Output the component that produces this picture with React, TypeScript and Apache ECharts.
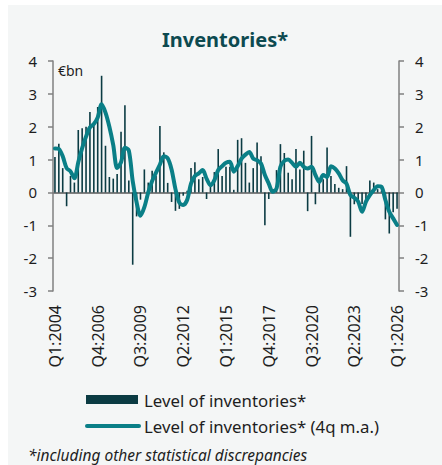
import React, { useEffect, useRef } from "react";
import * as echarts from "echarts";

const startYear = 2004;
const quarterCount = 89;
const categories: string[] = [];
for (let i = 0; i < quarterCount; i++) {
  categories.push(`Q${(i % 4) + 1}:${startYear + Math.floor(i / 4)}`);
}

const inventories = [
  1.08, 1.48, 0.74, -0.42, 0.5, 0.3, 1.9, 1.95, 2.0, 2.45,
  2.1, 2.6, 3.55, 1.42, 0.47, 0.42, 0.56, 1.85, 2.65, 0.36,
  -2.2, -0.73, -0.22, 0.7, 0.3, 0.66, 0.5, 2.02, 1.22, 0.29,
  -0.29, -0.56, -0.5, -0.1, 0.05, 0.74, 0.92, 0.4, 0.47, -0.2,
  0.2, 0.62, 1.32, 0.5, 0.78, 0.78, 0.08, 1.6, 1.65, 0.9,
  0.3, 0.74, 1.52, 1.1, -1.0, -0.2, 0.1, 0.68, 1.47, 1.2,
  0.6, 0.4, 1.32, 0.7, 1.27, -0.57, 1.72, -0.36, 0.35, 0.4,
  1.37, 0.5, 0.26, 0.14, 0.1, 0.8, -1.35, -0.36, -0.28, -0.35,
  -0.2, 0.36, 0.3, 0.1, 0.05, -0.82, -1.25, -0.6, -0.5,
];

const inventoriesMA = [
  1.34, 1.32, 1.1, 0.74, 0.64, 0.43, 0.92, 1.35, 1.7, 1.98,
  2.08, 2.28, 2.68, 2.43, 2.0, 1.44, 0.74, 0.92, 1.36, 1.28,
  0.35, -0.3, -0.71, -0.45, 0.0, 0.35, 0.6, 0.85, 1.1, 1.04,
  0.7, 0.1, -0.31, -0.38, -0.23, 0.27, 0.5, 0.58, 0.68, 0.42,
  0.22, 0.37, 0.68, 0.8, 0.9, 0.93, 0.63, 0.8, 1.03, 1.15,
  1.23, 1.03, 0.98, 0.88, 0.53, 0.27, 0.02, 0.12, 0.78, 0.96,
  1.0, 0.9, 0.78, 0.9, 0.78, 0.73, 0.78, 0.53, 0.32, 0.53,
  0.47, 0.8, 0.73, 0.58, 0.37, 0.27, -0.08, -0.16, -0.28, -0.59,
  -0.28, -0.08, 0.07, 0.19, 0.17, -0.23, -0.59, -0.79, -0.99,
];

const seriesNames = ["Level of inventories*", "Level of inventories* (4q m.a.)"];

const yMin = -3;
const yMax = 4;
const yInterval = 1;

const FONT = "Noto Sans";
const AXIS_GREY = "#808080";
const TEXT = "#1e1e1e";
const BAR_COLOR = "#0b3b43";
const LINE_COLOR = "#0a7f87";

export default function App() {
  const ref = useRef<HTMLDivElement>(null);
  useEffect(() => {
    if (!ref.current) return;
    const chart = echarts.init(ref.current, undefined, { renderer: "svg" });
    const yAxisCommon = {
      type: "value" as const,
      min: yMin,
      max: yMax,
      interval: yInterval,
      splitLine: { show: false },
      axisLine: { show: true, lineStyle: { color: AXIS_GREY, width: 1.5 } },
      axisTick: { show: true, inside: false, length: 5, lineStyle: { color: AXIS_GREY, width: 1.5 } },
      axisLabel: { color: TEXT, fontSize: 15, fontFamily: FONT, margin: 16 },
    };
    chart.setOption({
      animation: false,
      backgroundColor: "#f4f6f6",
      textStyle: { fontFamily: FONT },
      title: {
        text: "Inventories*",
        left: "center",
        top: 19,
        textStyle: { color: "#0d4a50", fontSize: 20, fontWeight: "bold", fontFamily: FONT },
      },
      grid: { left: 45, right: 43, top: 56, bottom: 174, containLabel: false },
      xAxis: [
        {
          type: "category",
          data: categories,
          position: "bottom",
          axisLine: { show: false, onZero: false },
          axisTick: { show: false },
          axisLabel: {
            interval: 10,
            rotate: 90,
            margin: 14,
            color: TEXT,
            fontSize: 16,
            fontFamily: FONT,
          },
        },
        {
          type: "category",
          data: categories,
          position: "bottom",
          axisLine: { show: true, onZero: true, lineStyle: { color: AXIS_GREY, width: 2 } },
          axisTick: { show: false },
          axisLabel: { show: false },
        },
      ],
      yAxis: [
        { ...yAxisCommon, position: "left" },
        { ...yAxisCommon, position: "right" },
      ],
      graphic: [
        {
          type: "text",
          left: 50,
          top: 58,
          style: { text: "€bn", fill: TEXT, fontSize: 14, fontFamily: FONT },
        },
        {
          type: "rect",
          shape: { x: 78, y: 390, width: 52, height: 9 },
          style: { fill: BAR_COLOR },
        },
        {
          type: "text",
          x: 136,
          y: 395,
          style: {
            text: seriesNames[0],
            fill: TEXT,
            fontSize: 16.8,
            fontFamily: FONT,
            verticalAlign: "middle",
          },
        },
        {
          type: "line",
          shape: { x1: 79, y1: 421, x2: 131, y2: 421 },
          style: { stroke: LINE_COLOR, lineWidth: 4, lineCap: "round" },
        },
        {
          type: "text",
          x: 136,
          y: 421,
          style: {
            text: seriesNames[1],
            fill: TEXT,
            fontSize: 16.8,
            fontFamily: FONT,
            verticalAlign: "middle",
          },
        },
        {
          type: "text",
          left: 20,
          top: 442,
          style: {
            text: "*including other statistical discrepancies",
            fill: TEXT,
            fontSize: 15.5,
            fontStyle: "italic",
            fontFamily: FONT,
          },
        },
      ],
      series: [
        {
          name: seriesNames[0],
          type: "bar",
          xAxisIndex: 0,
          yAxisIndex: 0,
          data: inventories,
          barWidth: 1.6,
          itemStyle: { color: BAR_COLOR },
        },
        {
          name: seriesNames[1],
          type: "line",
          xAxisIndex: 0,
          yAxisIndex: 0,
          data: inventoriesMA,
          smooth: 0.3,
          symbol: "none",
          showSymbol: false,
          lineStyle: { color: LINE_COLOR, width: 4, cap: "round", join: "round" },
          itemStyle: { color: LINE_COLOR },
        },
      ],
    });
    return () => chart.dispose();
  }, []);
  return (
    <div
      ref={ref}
      style={{ position: "absolute", left: 8, top: 5, width: 434, height: 460 }}
    />
  );
}
